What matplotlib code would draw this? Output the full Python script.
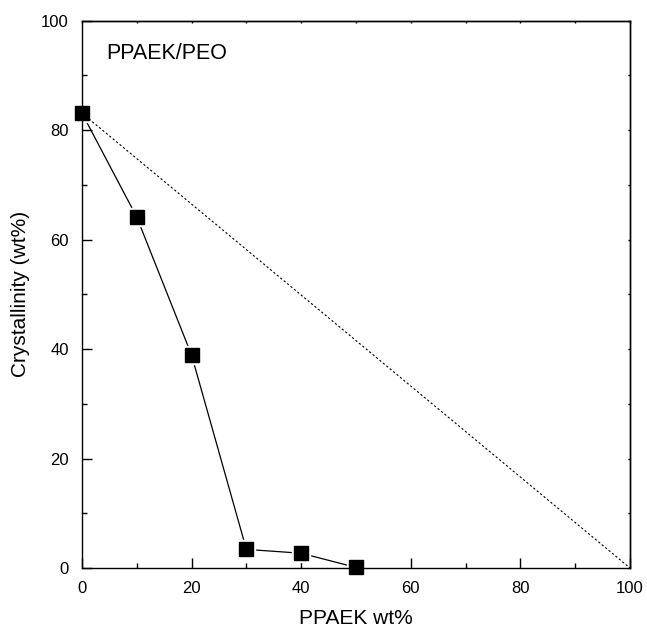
import matplotlib
matplotlib.use('Agg')
import matplotlib.pyplot as plt
from matplotlib.ticker import MultipleLocator

plt.rcParams['font.family'] = ['Liberation Sans', 'DejaVu Sans']

# PPAEK content and measured crystallinity
ppaek = [0, 10, 20, 30, 40, 50]
crystallinity = [83.1, 64.1, 38.9, 3.4, 2.7, 0.1]

# additivity line (pure PEO value down to zero at 100 % PPAEK)
ideal_x = [0, 100]
ideal_y = [83.1, 0]

fig = plt.figure(figsize=(6.47, 6.27), dpi=100)
ax = fig.add_axes([0.1267, 0.0941, 0.847, 0.873])

ax.plot(ppaek, crystallinity, color='black', lw=0.9, zorder=1)
# white halo so the line stops short of the squares
ax.plot(ppaek, crystallinity, ls='none', marker='s', ms=13.5, mfc='white',
        mec='white', zorder=2, clip_on=False)
ax.plot(ideal_x, ideal_y, color='black', lw=0.8, ls=(0, (2, 2)), zorder=3)
ax.plot(ppaek, crystallinity, ls='none', marker='s', ms=9.5, mfc='black',
        mec='black', zorder=4, clip_on=False)

ax.set_xlim(0, 100)
ax.set_ylim(0, 100)
ax.xaxis.set_major_locator(MultipleLocator(20))
ax.xaxis.set_minor_locator(MultipleLocator(10))
ax.yaxis.set_major_locator(MultipleLocator(20))
ax.yaxis.set_minor_locator(MultipleLocator(10))

ax.tick_params(which='both', direction='in', width=1.0, labelsize=12,
               pad=9.5, top=False, right=False)
ax.tick_params(which='major', length=7)
ax.tick_params(which='minor', length=3.5)

# tiny ticks on top and right every 10
ax_top = ax.secondary_xaxis('top')
ax_top.xaxis.set_major_locator(MultipleLocator(10))
ax_top.tick_params(direction='in', length=1.5, width=1.0, labeltop=False)
ax_right = ax.secondary_yaxis('right')
ax_right.yaxis.set_major_locator(MultipleLocator(10))
ax_right.tick_params(direction='in', length=1.5, width=1.0, labelright=False)
ax_top.spines['top'].set_linewidth(1.0)
ax_right.spines['right'].set_linewidth(1.0)

for s in ax.spines.values():
    s.set_linewidth(1.0)

ax.set_xlabel('PPAEK wt%', fontsize=15, labelpad=9)
ax.set_ylabel('Crystallinity (wt%)', fontsize=15, labelpad=8)

ax.text(4.4, 93, 'PPAEK/PEO', fontsize=15.5, va='baseline', ha='left')

fig.savefig('out.png', dpi=100)
